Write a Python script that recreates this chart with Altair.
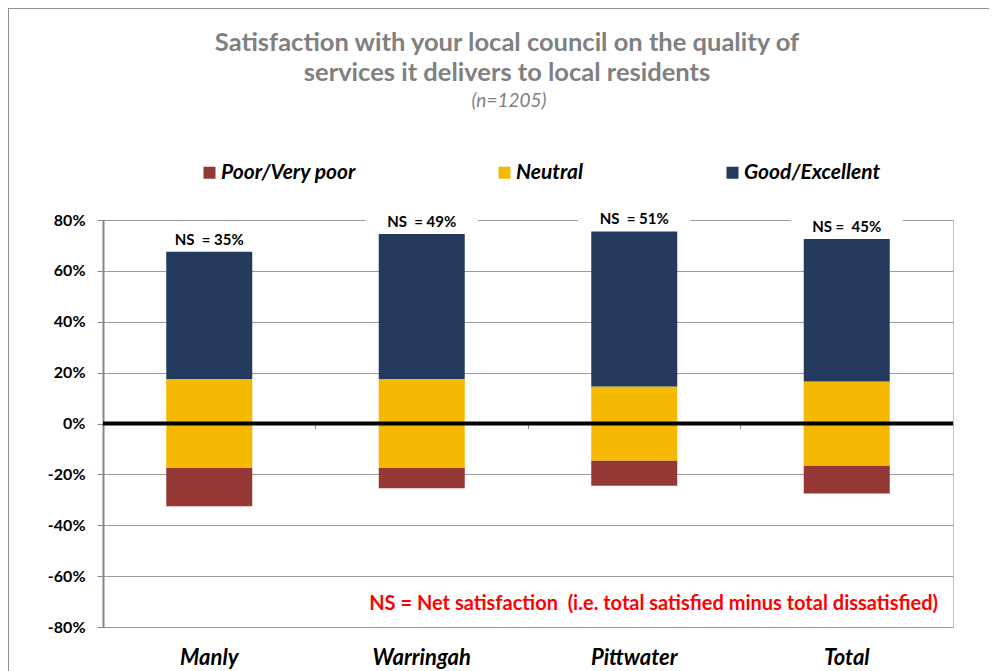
import altair as alt
import pandas as pd

categories = ["Manly", "Warringah", "Pittwater", "Total"]
poor = [15, 8, 10, 11]
neutral = [35, 35, 29, 33]
good = [50, 57, 61, 56]
ns_labels = ["NS \u00a0= 35%", "NS \u00a0= 49%", "NS \u00a0= 51%", "NS = \u00a045%"]
series = ["Poor/Very poor", "Neutral", "Good/Excellent"]
colors = ["#953735", "#F4B900", "#233A5C"]
y_ticks = [-80, -60, -40, -20, 0, 20, 40, 60, 80]
note = ["NS = Net satisfaction \u00a0(i.e. total satisfied minus total dissatisfied)"]
title_lines = ["Satisfaction with your local council on the quality of",
               "services it delivers to local residents"]
subtitle = ["(n=1205)"]

rows = []
for c, p, n, g in zip(categories, poor, neutral, good):
    h = n / 2
    rows.append(dict(category=c, series=series[0], y0=-h - p, y1=-h))
    rows.append(dict(category=c, series=series[1], y0=-h, y1=h))
    rows.append(dict(category=c, series=series[2], y0=h, y1=h + g))
seg = pd.DataFrame(rows)
lab = pd.DataFrame({"category": categories, "label": ns_labels,
                    "top": [n / 2 + g for n, g in zip(neutral, good)]})

W, H = 850, 407
FONT = "Lato"
GREY = "#808080"
yscale = alt.Scale(domain=[-80, 80], nice=False, zero=False)
xscale = alt.Scale(paddingInner=0, paddingOuter=0)
xsort = categories

y_axis = alt.Axis(values=y_ticks, labelExpr="datum.value + '%'", labelFont=FONT,
                  labelFontSize=16, labelFontWeight="bold", labelColor="black",
                  labelPadding=12, tickSize=6, tickColor="#888888",
                  domainColor="#888888", domainWidth=2, gridColor="#9a9a9a",
                  gridWidth=1, title=None)

x_main = alt.X("category:N", sort=xsort, title=None, scale=xscale,
               axis=alt.Axis(orient="bottom", labelAngle=0, labelFont=FONT, labelFontSize=22,
                             labelFontWeight="bold", labelFontStyle="italic", labelColor="black",
                             labelPadding=20, ticks=False, domain=False, grid=False))

legend = alt.Legend(title=None, orient="none", legendX=96, legendY=-58, direction="horizontal",
                    symbolType="square", symbolSize=144, symbolStrokeWidth=0,
                    labelFont=FONT, labelFontSize=21, labelFontWeight="bold",
                    labelFontStyle="italic", labelColor="black", labelOffset=1,
                    columnPadding=138, labelLimit=300)

border = alt.Chart(pd.DataFrame({"a": [0]})).mark_rect(
    fillOpacity=0, stroke="#909090", strokeWidth=2
).encode(x=alt.value(-95), x2=alt.value(W + 100), y=alt.value(-212), y2=alt.value(H + 80))

title_layer = alt.Chart(pd.DataFrame({"t": title_lines, "yy": [-177, -147]})).mark_text(
    font=FONT, fontSize=25.5, fontWeight="bold", color=GREY, align="center", baseline="middle"
).encode(x=alt.value(404), y=alt.Y("yy:Q", scale=None), text="t:N")

sub_layer = alt.Chart(pd.DataFrame({"t": subtitle})).mark_text(
    font=FONT, fontSize=19, fontStyle="italic", color=GREY,
    align="center", baseline="middle"
).encode(x=alt.value(406), y=alt.value(-119), text="t:N")

bg = alt.Chart(lab).transform_calculate(top2="datum.top + 9").mark_bar(
    size=112, color="white"
).encode(x=alt.X("category:N", sort=xsort, scale=xscale, axis=None),
         y=alt.Y("top:Q", scale=yscale, axis=y_axis), y2="top2:Q")

bars = alt.Chart(seg).mark_bar(size=86).encode(
    x=x_main, y=alt.Y("y0:Q", scale=yscale, axis=y_axis), y2="y1:Q",
    color=alt.Color("series:N", scale=alt.Scale(domain=series, range=colors), legend=legend),
)

zero = alt.Chart(pd.DataFrame({"v": [0]})).mark_rule(color="black", strokeWidth=4).encode(
    y=alt.Y("v:Q", scale=yscale, axis=y_axis))

ns = alt.Chart(lab).mark_text(font=FONT, fontSize=15, fontWeight="bold", color="black",
                              baseline="bottom", dy=-4).encode(
    x=alt.X("category:N", sort=xsort, title=None, scale=xscale,
            axis=alt.Axis(orient="bottom", offset=-H / 2, labels=False, domain=False,
                          ticks=True, tickSize=5, tickColor="#888888", bandPosition=0,
                          grid=False)),
    y=alt.Y("top:Q", scale=yscale, axis=y_axis),
    text="label:N",
)

note_layer = alt.Chart(pd.DataFrame({"t": note})).mark_text(
    align="right", font=FONT, fontSize=20, fontWeight="bold", color="#FF0000", baseline="middle"
).encode(x=alt.value(835), y=alt.value(384), text="t:N")

chart = alt.layer(border, title_layer, sub_layer, bg, bars, zero, ns, note_layer).resolve_axis(
    x="independent"
).properties(
    width=W, height=H,
    padding={"left": 95, "top": 212, "right": 36, "bottom": 46},
    autosize=alt.AutoSizeParams(type="none"),
).configure_view(stroke="#c0c0c0")

chart.save("out.html", embed_options={"renderer": "svg", "actions": False})
